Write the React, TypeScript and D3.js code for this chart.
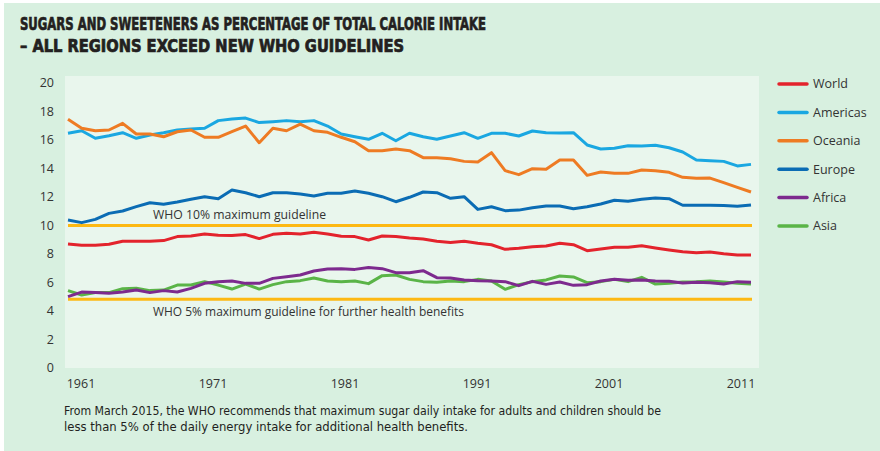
import React from "react";
import * as d3 from "d3";

// years 1961..2011
const years: number[] = d3.range(1961, 2012);

const world = [8.70, 8.61, 8.61, 8.68, 8.89, 8.89, 8.89, 8.94, 9.22, 9.26,
  9.40, 9.31, 9.29, 9.36, 9.08, 9.38, 9.45, 9.40, 9.52, 9.40,
  9.24, 9.22, 8.98, 9.26, 9.22, 9.12, 9.05, 8.89, 8.80, 8.89,
  8.75, 8.65, 8.33, 8.40, 8.51, 8.56, 8.75, 8.65, 8.23, 8.35,
  8.47, 8.47, 8.58, 8.42, 8.28, 8.16, 8.09, 8.14, 8.02, 7.93, 7.93];

const americas = [16.47, 16.65, 16.12, 16.30, 16.51, 16.12, 16.35, 16.51, 16.70, 16.77,
  16.82, 17.36, 17.47, 17.54, 17.22, 17.28, 17.36, 17.28, 17.36, 16.98,
  16.42, 16.23, 16.05, 16.47, 15.95, 16.47, 16.23, 16.05, 16.28, 16.51,
  16.12, 16.47, 16.47, 16.28, 16.63, 16.51, 16.49, 16.51, 15.65, 15.37,
  15.42, 15.60, 15.58, 15.63, 15.46, 15.16, 14.60, 14.55, 14.50, 14.18, 14.29];

const oceania = [17.45, 16.82, 16.65, 16.70, 17.17, 16.42, 16.42, 16.23, 16.58, 16.70,
  16.19, 16.19, 16.58, 16.98, 15.81, 16.82, 16.65, 17.12, 16.65, 16.54,
  16.19, 15.88, 15.25, 15.25, 15.37, 15.25, 14.76, 14.76, 14.69, 14.50,
  14.46, 15.11, 13.85, 13.57, 13.99, 13.94, 14.60, 14.60, 13.52, 13.75,
  13.66, 13.66, 13.89, 13.85, 13.73, 13.38, 13.31, 13.33, 13.01, 12.68, 12.35];

const europe = [10.39, 10.20, 10.43, 10.85, 11.02, 11.32, 11.60, 11.49, 11.65, 11.84,
  12.02, 11.88, 12.49, 12.30, 12.02, 12.30, 12.30, 12.21, 12.07, 12.26,
  12.26, 12.42, 12.26, 12.02, 11.67, 11.98, 12.35, 12.30, 11.91, 12.02,
  11.13, 11.32, 11.04, 11.08, 11.25, 11.37, 11.37, 11.18, 11.32, 11.51,
  11.77, 11.70, 11.84, 11.93, 11.88, 11.42, 11.42, 11.42, 11.40, 11.35, 11.44];

const africa = [5.01, 5.33, 5.29, 5.24, 5.33, 5.47, 5.29, 5.43, 5.33, 5.59,
  5.94, 6.06, 6.11, 5.94, 5.94, 6.29, 6.41, 6.53, 6.81, 6.95,
  6.97, 6.92, 7.06, 6.97, 6.69, 6.69, 6.83, 6.34, 6.32, 6.18,
  6.13, 6.11, 6.06, 5.78, 6.08, 5.87, 6.04, 5.80, 5.85, 6.11,
  6.22, 6.15, 6.18, 6.11, 6.08, 5.97, 6.01, 5.99, 5.89, 6.06, 6.01];

const asia = [5.43, 5.12, 5.29, 5.29, 5.57, 5.59, 5.43, 5.47, 5.82, 5.82,
  6.06, 5.82, 5.54, 5.89, 5.54, 5.85, 6.06, 6.13, 6.32, 6.11,
  6.06, 6.11, 5.92, 6.48, 6.53, 6.22, 6.06, 6.01, 6.11, 6.06,
  6.22, 6.11, 5.52, 5.85, 6.06, 6.18, 6.46, 6.39, 5.99, 6.06,
  6.22, 6.06, 6.36, 5.89, 5.94, 6.04, 6.06, 6.11, 6.04, 5.94, 5.89];

const seriesNames = ["World", "Americas", "Oceania", "Europe", "Africa", "Asia"];
const seriesValues = [world, americas, oceania, europe, africa, asia];
const seriesColors = ["#e3232c", "#1aa7e1", "#ee7b23", "#0b6cb4", "#7d2a8e", "#5ab447"];
// drawing order (index into the arrays above)
const drawOrder = [1, 2, 3, 0, 5, 4];

const yTicks = [0, 2, 4, 6, 8, 10, 12, 14, 16, 18, 20];
const xTickYears = [1961, 1971, 1981, 1991, 2001, 2011];

const guidelines = [
  { value: 10, label: "WHO 10% maximum guideline" },
  { value: 4.82, label: "WHO 5% maximum guideline for further health benefits" },
];

const titleLines = [
  "SUGARS AND SWEETENERS AS PERCENTAGE OF TOTAL CALORIE INTAKE",
  "– ALL REGIONS EXCEED NEW WHO GUIDELINES",
];
const noteLines = [
  "From March 2015, the WHO recommends that maximum sugar daily intake for adults and children should be",
  "less than 5% of the daily energy intake for additional health benefits.",
];

const W = 880;
const H = 451;
const plot = { left: 65, right: 759, top: 76, bottom: 368 };
const txtFont = "'Open Sans', 'Noto Sans', sans-serif";

export default function App() {
  const x = d3.scaleLinear().domain([1961, 2011]).range([68, 751]);
  const xLabel = d3.scaleLinear().domain([1961, 2011]).range([81, 741]);
  const y = d3.scaleLinear().domain([0, 20]).range([368, 83]);

  const line = d3
    .line<number>()
    .x((_, i) => x(years[i]))
    .y((d) => y(d));

  return (
    <svg width={W} height={H} style={{ position: "absolute", left: 0, top: 0 }}>
      <rect x={4} y={3} width={W - 4} height={H - 3} fill="#d8f0e0" />
      <rect
        x={plot.left}
        y={plot.top}
        width={plot.right - plot.left}
        height={plot.bottom - plot.top}
        fill="#e9f6ed"
      />

      {/* title */}
      <g
        fontFamily="'DejaVu Sans Condensed', 'DejaVu Sans', sans-serif"
        fontWeight="bold"
        fill="#231f20"
        stroke="#231f20"
        strokeWidth={0.7}
        fontSize={17.5}
      >
        <text x={20} y={30} textLength={466} lengthAdjust="spacingAndGlyphs">{titleLines[0]}</text>
        <text x={20} y={52} textLength={384} lengthAdjust="spacingAndGlyphs">{titleLines[1]}</text>
      </g>

      {/* axis labels */}
      <g fontFamily={txtFont} fontSize={12.5} fill="#333">
        {yTicks.map((t) => (
          <text key={t} x={54} y={y(t)} dy="0.35em" textAnchor="end">{t}</text>
        ))}
        {xTickYears.map((yr) => (
          <text key={yr} x={xLabel(yr)} y={388} textAnchor="middle">{yr}</text>
        ))}
      </g>

      {/* guidelines */}
      {guidelines.map((g) => (
        <line key={g.label} x1={68} x2={752} y1={y(g.value)} y2={y(g.value)} stroke="#fdb913" strokeWidth={3} />
      ))}
      <g fontFamily={txtFont} fontSize={12.5} fill="#333">
        <text x={153} y={y(guidelines[0].value) - 7} textLength={173} lengthAdjust="spacingAndGlyphs">
          {guidelines[0].label}
        </text>
        <text x={153} y={y(guidelines[1].value) + 17} textLength={311} lengthAdjust="spacingAndGlyphs">
          {guidelines[1].label}
        </text>
      </g>

      {/* series */}
      {drawOrder.map((i) => (
        <path
          key={seriesNames[i]}
          d={line(seriesValues[i]) || ""}
          fill="none"
          stroke={seriesColors[i]}
          strokeWidth={3}
          strokeLinejoin="round"
        />
      ))}

      {/* legend */}
      <g fontFamily={txtFont} fontSize={12.5} fill="#333">
        {seriesNames.map((name, i) => (
          <g key={name} transform={`translate(0, ${84 + i * 28.4})`}>
            <line x1={779} x2={807} y1={0} y2={0} stroke={seriesColors[i]} strokeWidth={3.5} strokeLinecap="round" />
            <text x={813} y={0} dy="0.35em">{name}</text>
          </g>
        ))}
      </g>

      {/* footnote */}
      <g fontFamily="'DejaVu Sans Condensed', 'Liberation Sans Narrow', sans-serif" fontSize={12} fill="#231f20">
        <text x={64} y={415} textLength={597} lengthAdjust="spacingAndGlyphs">{noteLines[0]}</text>
        <text x={64} y={431} textLength={404} lengthAdjust="spacingAndGlyphs">{noteLines[1]}</text>
      </g>
    </svg>
  );
}
